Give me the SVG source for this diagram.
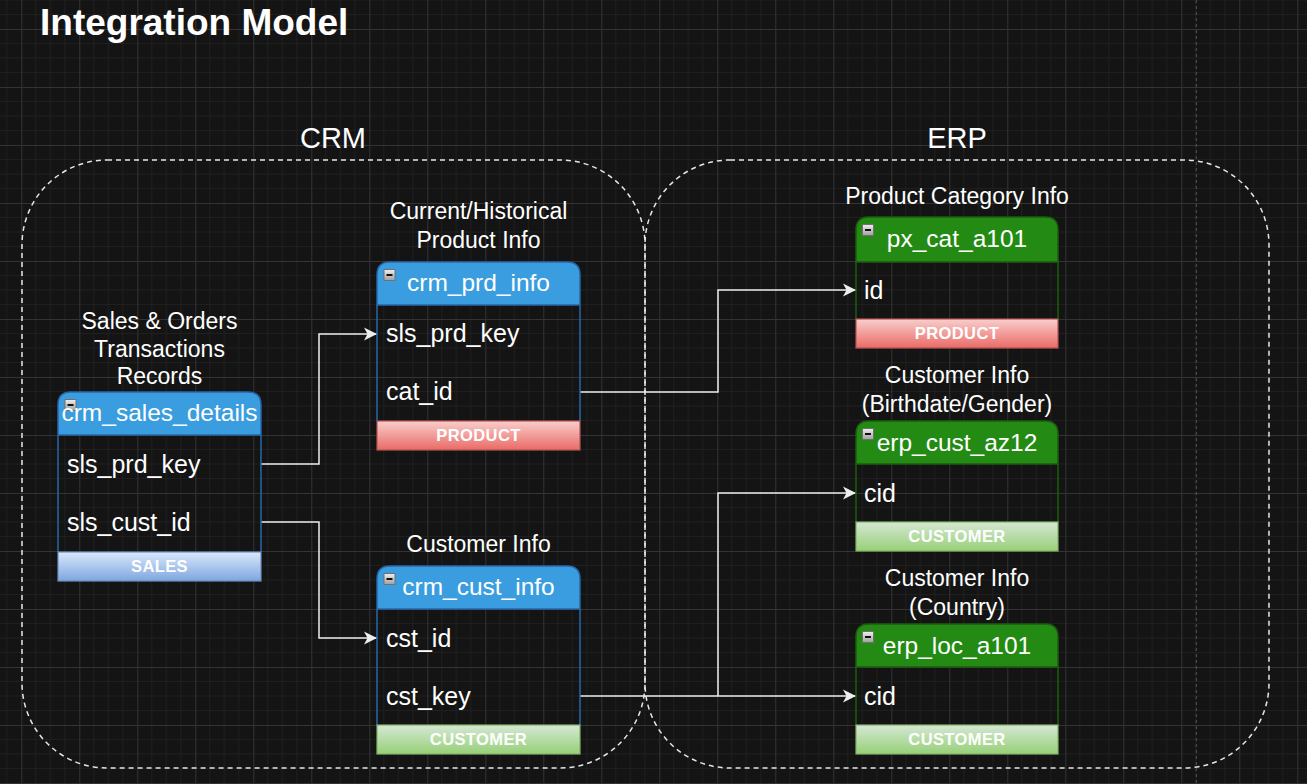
<svg xmlns="http://www.w3.org/2000/svg" width="1307" height="784" viewBox="0 0 1307 784">
  <defs>
    <pattern id="grid" patternUnits="userSpaceOnUse" x="21.3" y="29" width="58" height="58">
      <rect width="58" height="58" fill="#141414"/>
      <path d="M14.5,0V58M29,0V58M43.5,0V58M0,14.5H58M0,29H58M0,43.5H58" stroke="#1f1f1f" stroke-width="1" fill="none"/>
      <path d="M0.5,0V58M0,0.5H58" stroke="#333333" stroke-width="1" fill="none"/>
    </pattern>
    <linearGradient id="gSales" x1="0" y1="0" x2="0" y2="1">
      <stop offset="0" stop-color="#dae8fc"/>
      <stop offset="1" stop-color="#7ea6e0"/>
    </linearGradient>
    <linearGradient id="gProd" x1="0" y1="0" x2="0" y2="1">
      <stop offset="0" stop-color="#f8cecc"/>
      <stop offset="1" stop-color="#ea6b66"/>
    </linearGradient>
    <linearGradient id="gCust" x1="0" y1="0" x2="0" y2="1">
      <stop offset="0" stop-color="#d5e8d4"/>
      <stop offset="1" stop-color="#97d077"/>
    </linearGradient>
    <linearGradient id="gIcon" x1="0" y1="0" x2="0" y2="1">
      <stop offset="0" stop-color="#f0f0f0"/>
      <stop offset="1" stop-color="#a0a0a0"/>
    </linearGradient>
    <g id="collapse">
      <rect x="0.5" y="0.5" width="11" height="11" fill="url(#gIcon)" stroke="#707070" stroke-width="1"/>
      <path d="M3,6H9" stroke="#111" stroke-width="2"/>
    </g>
    <marker id="arrow" markerUnits="userSpaceOnUse" markerWidth="14" markerHeight="14" viewBox="0 0 14 14" refX="13" refY="7" orient="auto">
      <path d="M0,0.5L13,7L0,13.5L3.5,7Z" fill="#eeeeee"/>
    </marker>
  </defs>
  <style>
    text { font-family: "Liberation Sans", Arial, sans-serif; fill: #ffffff; }
    .title { font-size: 37px; font-weight: bold; }
    .grp { font-size: 29px; text-anchor: middle; }
    .lbl { font-size: 23px; text-anchor: middle; }
    .hdr { font-size: 24.5px; text-anchor: middle; }
    .row { font-size: 25px; }
    .ftr { font-size: 16.5px; font-weight: bold; text-anchor: middle; letter-spacing: 0.4px; }
    .container { fill: none; stroke: #e6e6e6; stroke-width: 1.5; stroke-dasharray: 5 4; }
    .hblue { fill: #3a9de0; stroke: #2767a8; stroke-width: 1.5; }
    .hgreen { fill: #238b13; stroke: #1b5e0e; stroke-width: 1.5; }
    .bblue { fill: none; stroke: #2767a8; stroke-width: 1.5; }
    .bgreen { fill: none; stroke: #1b5e0e; stroke-width: 1.5; }
    .fsales { fill: url(#gSales); stroke: #6c8ebf; stroke-width: 1.2; }
    .fprod { fill: url(#gProd); stroke: #b85450; stroke-width: 1.2; }
    .fcust { fill: url(#gCust); stroke: #82b366; stroke-width: 1.2; }
    .edge { fill: none; stroke: #eeeeee; stroke-width: 1.5; marker-end: url(#arrow); }
    .edge2 { fill: none; stroke: #eeeeee; stroke-width: 1.5; }
  </style>

  <rect width="1307" height="784" fill="url(#grid)"/>
  <path d="M1196.3,0V784" stroke="#555555" stroke-width="1" stroke-dasharray="3 3"/>

  <text class="title" x="40" y="35">Integration Model</text>

  <g id="crm-group">
    <rect class="container" x="22" y="160" width="623" height="608" rx="85" ry="85"/>
    <text class="grp" x="333" y="148">CRM</text>
  </g>
  <g id="erp-group">
    <rect class="container" x="645" y="160" width="624" height="608" rx="85" ry="85"/>
    <text class="grp" x="957" y="148">ERP</text>
  </g>

  <g id="connectors">
    <path class="edge" d="M261,464H319V334H377"/>
    <path class="edge" d="M261,522H319V638H377"/>
    <path class="edge" d="M580,392H718V290H856"/>
    <path class="edge" d="M580,696H856"/>
    <path class="edge" d="M718,696V493H856"/>
  </g>

  <g id="crm_sales_details">
    <text class="lbl" x="159.5" y="329">Sales &amp; Orders</text>
    <text class="lbl" x="159.5" y="357">Transactions</text>
    <text class="lbl" x="159.5" y="384">Records</text>
    <path class="bblue" d="M58,552V435M261,435V552"/>
    <path class="hblue" d="M58,435V405Q58,392 71,392H248Q261,392 261,405V435Z"/>
    <use href="#collapse" x="64.5" y="399"/>
    <text class="hdr" x="159.5" y="421">crm_sales_details</text>
    <text class="row" x="67" y="473">sls_prd_key</text>
    <text class="row" x="67" y="531">sls_cust_id</text>
    <rect class="fsales" x="58" y="552" width="203" height="29"/>
    <text class="ftr" x="159.5" y="572">SALES</text>
  </g>

  <g id="crm_prd_info">
    <text class="lbl" x="478.5" y="219">Current/Historical</text>
    <text class="lbl" x="478.5" y="248">Product Info</text>
    <path class="bblue" d="M377,421V305M580,305V421"/>
    <path class="hblue" d="M377,305V275Q377,262 390,262H567Q580,262 580,275V305Z"/>
    <use href="#collapse" x="383.5" y="269"/>
    <text class="hdr" x="478.5" y="291">crm_prd_info</text>
    <text class="row" x="386" y="342">sls_prd_key</text>
    <text class="row" x="386" y="400">cat_id</text>
    <rect class="fprod" x="377" y="421" width="203" height="29"/>
    <text class="ftr" x="478.5" y="441">PRODUCT</text>
  </g>

  <g id="crm_cust_info">
    <text class="lbl" x="478.5" y="552">Customer Info</text>
    <path class="bblue" d="M377,725V609M580,609V725"/>
    <path class="hblue" d="M377,609V579Q377,566 390,566H567Q580,566 580,579V609Z"/>
    <use href="#collapse" x="383.5" y="573"/>
    <text class="hdr" x="478.5" y="595">crm_cust_info</text>
    <text class="row" x="386" y="647">cst_id</text>
    <text class="row" x="386" y="705">cst_key</text>
    <rect class="fcust" x="377" y="725" width="203" height="29"/>
    <text class="ftr" x="478.5" y="745">CUSTOMER</text>
  </g>

  <g id="px_cat_a101">
    <text class="lbl" x="957" y="204">Product Category Info</text>
    <path class="bgreen" d="M856,319V262M1058,262V319"/>
    <path class="hgreen" d="M856,262V230Q856,217 869,217H1045Q1058,217 1058,230V262Z"/>
    <use href="#collapse" x="862" y="224"/>
    <text class="hdr" x="957" y="247">px_cat_a101</text>
    <text class="row" x="864" y="299">id</text>
    <rect class="fprod" x="856" y="319" width="202" height="29"/>
    <text class="ftr" x="957" y="339">PRODUCT</text>
  </g>

  <g id="erp_cust_az12">
    <text class="lbl" x="957" y="383">Customer Info</text>
    <text class="lbl" x="957" y="412">(Birthdate/Gender)</text>
    <path class="bgreen" d="M856,522V464M1058,464V522"/>
    <path class="hgreen" d="M856,464V434Q856,421 869,421H1045Q1058,421 1058,434V464Z"/>
    <use href="#collapse" x="862" y="428"/>
    <text class="hdr" x="957" y="451">erp_cust_az12</text>
    <text class="row" x="864" y="502">cid</text>
    <rect class="fcust" x="856" y="522" width="202" height="29"/>
    <text class="ftr" x="957" y="542">CUSTOMER</text>
  </g>

  <g id="erp_loc_a101">
    <text class="lbl" x="957" y="586">Customer Info</text>
    <text class="lbl" x="957" y="615">(Country)</text>
    <path class="bgreen" d="M856,725V667M1058,667V725"/>
    <path class="hgreen" d="M856,667V637Q856,624 869,624H1045Q1058,624 1058,637V667Z"/>
    <use href="#collapse" x="862" y="631"/>
    <text class="hdr" x="957" y="654">erp_loc_a101</text>
    <text class="row" x="864" y="705">cid</text>
    <rect class="fcust" x="856" y="725" width="202" height="29"/>
    <text class="ftr" x="957" y="745">CUSTOMER</text>
  </g>
</svg>
